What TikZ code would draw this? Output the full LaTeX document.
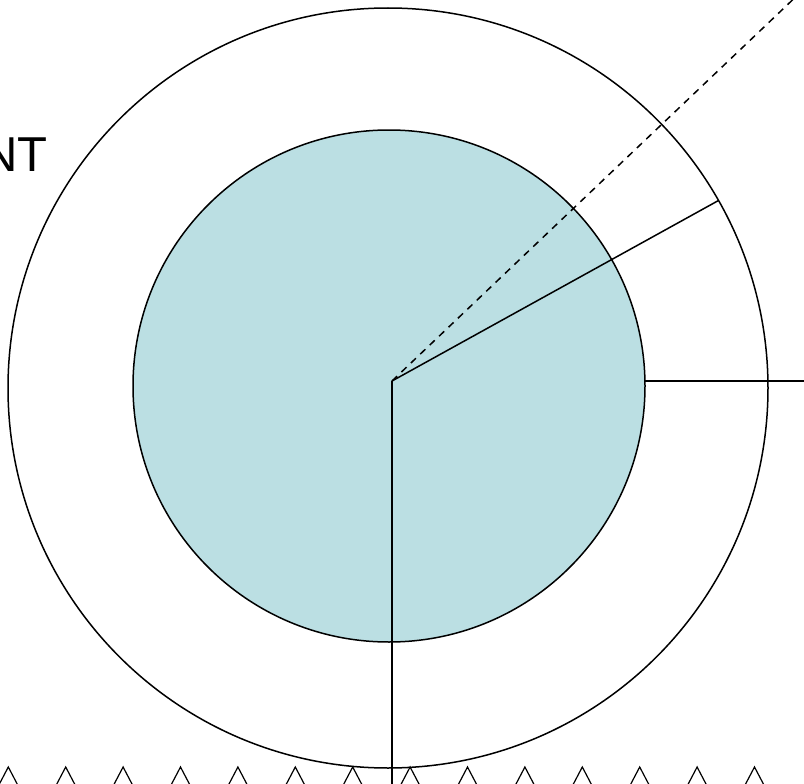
\documentclass[tikz,border=0pt]{standalone}
\usepackage{fontspec}
\setmainfont{Liberation Sans}
\usetikzlibrary{positioning}
\definecolor{coreblue}{RGB}{187,223,227}

\begin{document}
\begin{tikzpicture}[x=1pt, y=-1pt,
    ring/.style={circle, draw, line width=1.5pt, inner sep=0pt},
    ray/.style={line width=1.5pt},
    tooth/.style={line width=1.2pt}
]
\useasboundingbox (0,0) rectangle (804,784);
\clip (0,0) rectangle (804,784);

% Circles
\node[ring, minimum size=760pt] (outer) at (388,388) {};
\node[ring, fill=coreblue, minimum size=512pt] (inner) at (389,386) {};

% Centre and ray ends
\coordinate (c) at (392,381);
\coordinate (dashend) at (804,-11);
\coordinate (rimpt) at (718.5,200.5);
\coordinate (hstart) at (645,381);
\coordinate (hend) at (810,381);
\coordinate (vend) at (392,790);

% Rays
\draw[ray, dash pattern=on 7pt off 6pt] (c) -- (dashend);
\draw[ray] (c) -- (rimpt);
\draw[ray] (hstart) -- (hend);
\draw[ray] (c) -- (vend);

% Label
\node[anchor=east, font=\fontsize{49}{49}\selectfont, inner sep=0pt] (lbl) at (48,155) {NT};

% Teeth along the bottom
\foreach \x in {8.3,65.7,...,800} {
    \draw[tooth] (\x-11,788) -- (\x,767) -- (\x+11,788);
}
\end{tikzpicture}
\end{document}
